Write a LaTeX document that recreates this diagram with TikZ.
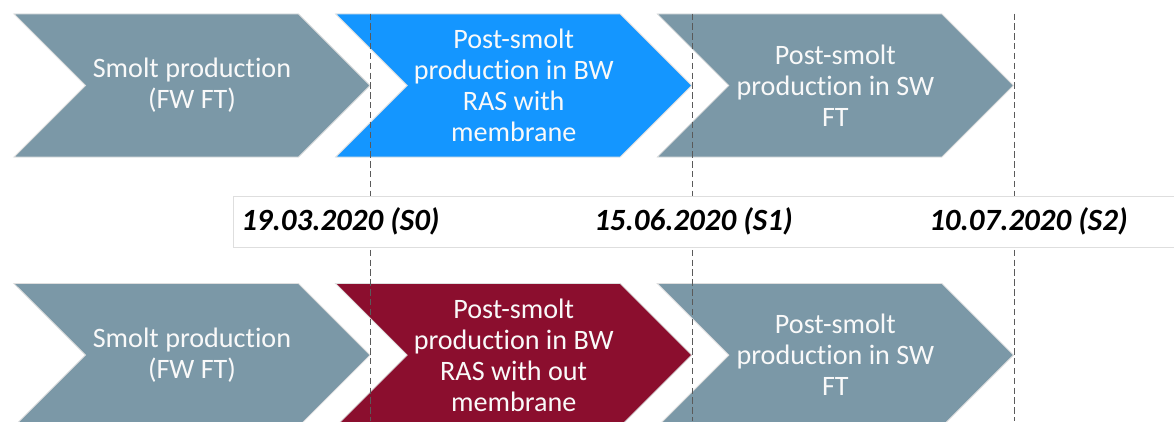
\documentclass[tikz,border=0pt]{standalone}
\usepackage{fontspec}
\setmainfont[Ligatures=NoCommon]{Carlito}
\usetikzlibrary{positioning,shapes.symbols}
\definecolor{chevgray}{RGB}{123,152,167}
\definecolor{chevblue}{RGB}{20,150,255}
\definecolor{chevred}{RGB}{139,14,46}
\definecolor{rimgray}{RGB}{222,222,222}
\definecolor{dashgray}{RGB}{90,90,90}
\begin{document}
\begin{tikzpicture}[x=0.025cm, y=0.025cm, node distance={8.04cm},
  chev/.style = {signal, signal from=west, signal to=east, signal pointer angle=90,
    minimum width=8.9cm, minimum height=3.575cm, inner sep=0pt, draw=rimgray, line width=0.6pt,
    text=white!95!gray, align=center, font=\fontsize{20}{22}\selectfont},
  datebox/.style = {draw=rimgray, fill=white, line width=0.6pt, minimum height=1.275cm, minimum width=23.8cm, inner sep=0pt},
  datetext/.style = {inner sep=0pt, anchor=west, font=\fontsize{22}{26}\selectfont\bfseries\itshape},
  timeline/.style = {dashgray, line width=0.7pt, dash pattern=on 4.5pt off 2.5pt}]
\useasboundingbox (0,0) rectangle (1174,421);
\clip (0,0) rectangle (1174,421);

% top row
\node[chev, fill=chevgray] (1) at (192,335.5) {Smolt production\\(FW FT)};
\node[chev, fill=chevblue] (2) [right of=1] {Post-smolt\\production in BW\\RAS with\\membrane};
\node[chev, fill=chevgray] (3) [right of=2] {Post-smolt\\production in SW\\FT};

% bottom row
\node[chev, fill=chevgray] (4) [below of=1, node distance={6.7375cm}] {Smolt production\\(FW FT)};
\node[chev, fill=chevred] (5) [right of=4] {Post-smolt\\production in BW\\RAS with out\\membrane};
\node[chev, fill=chevgray] (6) [right of=5] {Post-smolt\\production in SW\\FT};

% sampling dates
\draw[timeline] (1.east |- 1.north) -- (1.east |- 0,0);
\draw[timeline] (2.east |- 2.north) -- (2.east |- 0,0);
\draw[timeline] (3.east |- 3.north) -- (3.east |- 0,0);

\node[datebox, anchor=west] (band) at (233,199.5) {};
\node[datetext] (s0) at (241,199.5) {19.03.2020 (S0)};
\node[datetext] (s1) at (594,199.5) {15.06.2020 (S1)};
\node[datetext] (s2) at (929,199.5) {10.07.2020 (S2)};

\end{tikzpicture}
\end{document}
